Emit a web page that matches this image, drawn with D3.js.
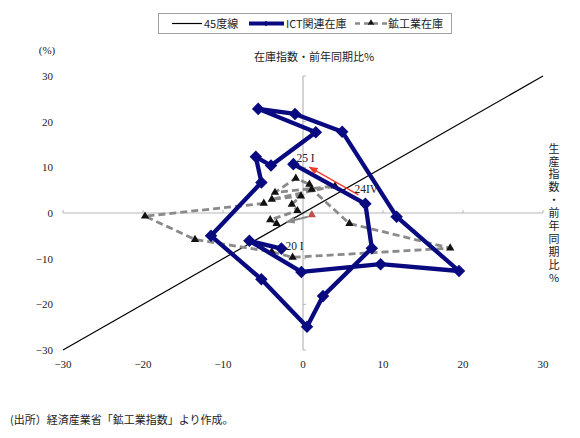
<!DOCTYPE html>
<html><head><meta charset="utf-8">
<script src="https://cdn.jsdelivr.net/npm/d3@7/dist/d3.min.js"></script>
<style>
body{margin:0;background:#fff;}
text{font-family:"Liberation Serif","Noto Sans CJK JP",serif;fill:#222;}
.jp{font-family:"Noto Sans CJK JP","Liberation Serif",sans-serif;}
.vt{writing-mode:vertical-rl;text-orientation:upright;}
</style></head>
<body>
<svg id="c" width="580" height="438"></svg>
<script>
// ---- data ----
const xTicks = [-30,-20,-10,0,10,20,30];
const yTicks = [-30,-20,-10,0,10,20,30];
const ictX = [-2.7,-6.7,-0.2,9.7,19.5,11.7,4.9,-1.0,-5.6,1.6,-4.0,-5.9,-5.2,-11.5,-5.2,0.5,2.5,8.6,7.8,-1.2];
const ictY = [-7.8,-6.1,-12.9,-11.2,-12.7,-0.8,17.8,21.7,22.8,17.7,10.4,12.3,6.7,-5.0,-14.5,-24.9,-18.2,-7.7,2.0,10.7];
const minX = [-4.9,-19.75,-13.5,-3.9,-1.3,18.4,5.8,1.1,0.8,-0.9,-3.5,4.0,-3.9,-0.25,-1.4,-0.7,-4.1,-3.3];
const minY = [2.1,-0.7,-5.8,-8.5,-9.7,-7.7,-2.3,5.2,6.3,7.6,4.5,5.9,3.0,3.7,1.9,0.5,-1.5,-2.3];
const minRed = [1.1,-0.4];
const legendLabels = ["45度線","ICT関連在庫","鉱工業在庫"];
const yTitle = "在庫指数・前年同期比%";
const xTitle = "生産指数・前年同期比%";
const source = "(出所）経済産業省「鉱工業指数」より作成。";

const svg = d3.select("#c");
const x = d3.scaleLinear().domain([-30,30]).range([63,543]);
const y = d3.scaleLinear().domain([-30,30]).range([350,76]);
const navy = "#0a0a80", grey = "#8a8a8a";

// defs
const defs = svg.append("defs");
defs.append("marker").attr("id","ar").attr("viewBox","0 0 10 10").attr("refX",9).attr("refY",5)
  .attr("markerWidth",9).attr("markerHeight",9).attr("markerUnits","userSpaceOnUse").attr("orient","auto")
  .append("path").attr("d","M0,1 L10,5 L0,9 z").attr("fill","#f03a2a");
defs.append("marker").attr("id","ag").attr("viewBox","0 0 10 10").attr("refX",9).attr("refY",5)
  .attr("markerWidth",9).attr("markerHeight",9).attr("markerUnits","userSpaceOnUse").attr("orient","auto")
  .append("path").attr("d","M0,1 L10,5 L0,9 z").attr("fill",grey);

// zero axes (gray)
svg.append("line").attr("x1",x(-30)).attr("x2",x(30)).attr("y1",y(0)).attr("y2",y(0)).attr("stroke","#b8b8b8").attr("stroke-width",1.2);
svg.append("line").attr("x1",x(0)).attr("x2",x(0)).attr("y1",y(-30)).attr("y2",y(30)).attr("stroke","#b8b8b8").attr("stroke-width",1.2);
// ticks
xTicks.forEach(t=>{ if(t!==0) svg.append("line").attr("x1",x(t)).attr("x2",x(t)).attr("y1",y(0)).attr("y2",y(0)-3).attr("stroke","#b8b8b8"); });
yTicks.forEach(t=>{ if(t!==0) svg.append("line").attr("x1",x(0)).attr("x2",x(0)+3).attr("y1",y(t)).attr("y2",y(t)).attr("stroke","#b8b8b8"); });

// tick labels
const fmt = d3.format("d");
svg.selectAll(".xl").data(xTicks).enter().append("text").attr("x",d=>x(d)).attr("y",368)
  .attr("text-anchor","middle").attr("font-size",11).text(d=>fmt(d));
svg.selectAll(".yl").data(yTicks).enter().append("text").attr("x",53).attr("y",d=>y(d)+4)
  .attr("text-anchor","end").attr("font-size",11).text(d=>fmt(d));
svg.append("text").attr("x",47).attr("y",54).attr("text-anchor","middle").attr("font-size",11).text("(%)");

// titles
svg.append("text").attr("class","jp").attr("x",314).attr("y",61).attr("text-anchor","middle").attr("font-size",11).text(yTitle);
svg.append("text").attr("class","jp vt").attr("x",554).attr("y",143)
  .attr("font-size",11).attr("letter-spacing",1.9).text(xTitle);

// 45 degree line
svg.append("line").attr("x1",x(-30)).attr("y1",y(-30)).attr("x2",x(30)).attr("y2",y(30)).attr("stroke","#000").attr("stroke-width",1.2);

// mining series
const minData = minX.map((v,i)=>[v,minY[i]]);
const line = d3.line().x(d=>x(d[0])).y(d=>y(d[1]));
svg.append("path").attr("d",line(minData)).attr("fill","none").attr("stroke",grey)
  .attr("stroke-width",2.8).attr("stroke-dasharray","7,4");
const tri = d3.symbol().type(d3.symbolTriangle).size(30);
svg.selectAll(".mt").data(minData).enter().append("path").attr("d",tri)
  .attr("transform",d=>`translate(${x(d[0])},${y(d[1])})`).attr("fill","#111");
svg.append("path").attr("d",tri).attr("transform",`translate(${x(minRed[0])},${y(minRed[1])})`).attr("fill","#c0504d");
// grey arrow (mining latest move)
const L = minData[minData.length-1];
svg.append("line").attr("x1",x(minRed[0])-4).attr("y1",y(minRed[1])+2)
  .attr("x2",x(L[0])+10).attr("y2",y(L[1])-1.5).attr("stroke",grey).attr("stroke-width",2)
  .attr("marker-end","url(#ag)");

// ICT series
const ictData = ictX.map((v,i)=>[v,ictY[i]]);
svg.append("path").attr("d",line(ictData)).attr("fill","none").attr("stroke",navy)
  .attr("stroke-width",4.3).attr("stroke-linejoin","round");
const dia = d3.symbol().type(d3.symbolDiamond2).size(100);
svg.selectAll(".id").data(ictData).enter().append("path").attr("d",dia)
  .attr("transform",d=>`translate(${x(d[0])},${y(d[1])})`).attr("fill",navy);

// red arrow 24IV -> 25I
const p24 = ictData[ictData.length-2], p25 = ictData[ictData.length-1];
svg.append("line").attr("x1",x(p24[0])-7).attr("y1",y(p24[1])-9)
  .attr("x2",x(p25[0])+16).attr("y2",y(p25[1])+3).attr("stroke","#f03a2a").attr("stroke-width",1.2)
  .attr("marker-end","url(#ar)");

// point labels
svg.append("text").attr("x",x(p25[0])+3).attr("y",y(p25[1])-2.5).attr("font-size",11.5).text("25 I");
svg.append("text").attr("x",x(p24[0])-11).attr("y",y(p24[1])-10.5).attr("font-size",11.5).text("24IV");
svg.append("text").attr("x",x(ictData[0][0])+4).attr("y",y(ictData[0][1])+1.5).attr("font-size",11.5).text("20 I");

// legend
const lg = svg.append("g");
lg.append("rect").attr("x",158.5).attr("y",13.5).attr("width",293).attr("height",20).attr("fill","#fff").attr("stroke","#a0a0a0");
lg.append("line").attr("x1",172).attr("x2",202).attr("y1",23.5).attr("y2",23.5).attr("stroke","#000").attr("stroke-width",1.2);
lg.append("text").attr("class","jp").attr("x",204).attr("y",27.5).attr("font-size",11).text(legendLabels[0]);
lg.append("line").attr("x1",249).attr("x2",284).attr("y1",23.5).attr("y2",23.5).attr("stroke",navy).attr("stroke-width",4);
lg.append("path").attr("d",d3.symbol().type(d3.symbolDiamond2).size(20)).attr("transform","translate(266,23.5)").attr("fill",navy);
lg.append("text").attr("class","jp").attr("x",286).attr("y",27.5).attr("font-size",11).text(legendLabels[1]);
lg.append("line").attr("x1",355).attr("x2",387).attr("y1",23.5).attr("y2",23.5).attr("stroke",grey).attr("stroke-width",2.5).attr("stroke-dasharray","5,4");
lg.append("path").attr("d",d3.symbol().type(d3.symbolTriangle).size(18)).attr("transform","translate(371,23)").attr("fill","#111");
lg.append("text").attr("class","jp").attr("x",388).attr("y",27.5).attr("font-size",11).text(legendLabels[2]);

// source
svg.append("text").attr("class","jp").attr("x",10).attr("y",424).attr("font-size",11).text(source);
</script>
</body></html>
